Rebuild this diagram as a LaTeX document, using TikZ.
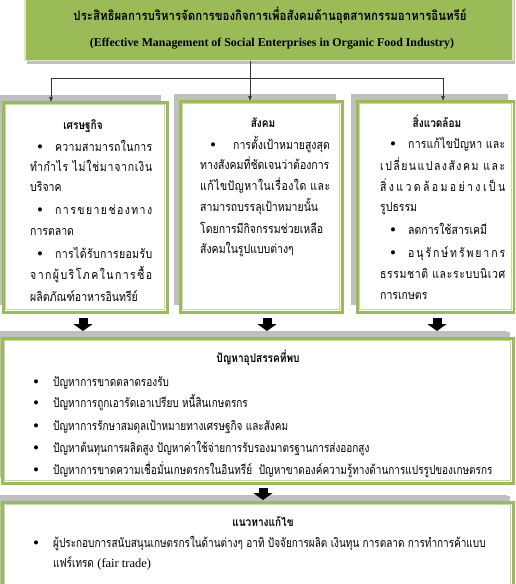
\documentclass[tikz,border=0pt]{standalone}
\usepackage{fontspec}
\setmainfont{Liberation Serif}
\newfontfamily\thai[Script=Thai,FakeStretch=0.84]{Loma}
\newfontfamily\thaiw[Script=Thai,FakeStretch=0.8]{Loma}
\newfontfamily\thait[Script=Thai,FakeStretch=0.88]{Loma}
\usetikzlibrary{shadows,arrows.meta}
\definecolor{ogreen}{HTML}{9BBB59}
\definecolor{shadowgray}{HTML}{BFBFBF}
\newcommand\dist[2]{\makebox[#1pt][s]{\spaceskip=0pt plus 1fil\relax #2}}
\newcommand\just[2]{\makebox[#1pt][s]{#2}}
\newcommand\ws{\hspace{3.5pt plus 1fil}}
\newcommand\innerframe[1]{\draw[ogreen!55, line width=0.8pt] ([shift={(2.6,2.6)}]#1.north west) rectangle ([shift={(-2.6,-2.6)}]#1.south east);}
\begin{document}
\begin{tikzpicture}[x=1pt,y=-1pt,
  frame/.style={draw=ogreen, line width=3pt, fill=white, inner sep=0pt, outer sep=0pt,
    general shadow={fill=shadowgray, shadow xshift=-6pt, shadow yshift=7pt}},
  wideframe/.style={frame, general shadow={fill=shadowgray, shadow xshift=-3pt, shadow yshift=6pt}},
  txt/.style={anchor=base west, inner sep=0pt, font=\thai\fontsize{12.5}{14}\selectfont},
  wtxt/.style={anchor=base west, inner sep=0pt, font=\thaiw\fontsize{12.5}{14}\selectfont},
  hdr/.style={anchor=base, inner sep=0pt, font=\thai\bfseries\fontsize{12}{14}\selectfont},
  bul/.style={anchor=base, inner sep=0pt, font=\fontsize{17}{17}\selectfont},
  arr/.style={-{Latex[length=5pt,width=4pt]}, line width=0.6pt, draw=black!80},
  blockarr/.style={line width=9pt, -{Triangle[width=19pt,length=7pt]}, shorten <=6pt, shorten >=7pt},
]
\clip (0,0) rectangle (515,584);
\fill[white] (0,0) rectangle (515,584);

% title
\node[fill=ogreen, draw=ogreen!35, line width=1.5pt, inner sep=0pt, outer sep=0pt,
  minimum width=488pt, minimum height=66pt,
  general shadow={fill=shadowgray, shadow xshift=2pt, shadow yshift=-3pt}] (title) at (269,27.5) {};
\node[anchor=base, inner sep=0pt, font=\thait\bfseries\fontsize{13}{15}\selectfont] (tt1) at (270,20)
  {ประสิทธิผลการบริหารจัดการของกิจการเพื่อสังคมด้านอุตสาหกรรมอาหารอินทรีย์};
\node[anchor=base, inner sep=0pt, font=\bfseries\fontsize{11.9}{13}\selectfont] (tt2) at (272,46)
  {(Effective Management of Social Enterprises in Organic Food Industry)};

% boxes
\node[frame, minimum width=164pt, minimum height=210pt] (b1) at (85,207) {};
\node[frame, minimum width=162pt, minimum height=211pt] (b2) at (261,206.5) {};
\node[frame, minimum width=157pt, minimum height=211pt] (b3) at (435.5,206.5) {};
\node[wideframe, minimum width=511pt, minimum height=145pt] (b4) at (257.5,410.5) {};
\node[wideframe, minimum width=511pt, minimum height=118pt] (b5) at (257.5,561) {};
\innerframe{b1}\innerframe{b2}\innerframe{b3}\innerframe{b4}\innerframe{b5}

% connectors
\coordinate (j) at (250,78);
\draw[line width=0.6pt, black!80] (title.south -| j) -- (j);
\draw[arr] (j) -| ([xshift=-34pt]b1.north);
\draw[arr] (j) -- ([xshift=-11pt]b2.north);
\draw[arr] (j) -| ([xshift=7.5pt]b3.north);

\draw[blockarr] ([xshift=-2pt]b1.south) -- ([xshift=-2pt]b1.south |- b4.north);
\draw[blockarr] ([xshift=6pt]b2.south) -- ([xshift=6pt]b2.south |- b4.north);
\draw[blockarr] ([xshift=1.5pt]b3.south) -- ([xshift=1.5pt]b3.south |- b4.north);
\draw[blockarr, shorten <=5pt, shorten >=2pt] ([xshift=5.5pt]b4.south) -- ([xshift=5.5pt]b4.south |- b5.north);

% box 1
\node[hdr] (h1) at (83,129) {เศรษฐกิจ};
\node[bul] (p1a) at (40,152) {•};
\node[txt] (l1a) at (55,151) {\dist{97}{ค ว า ม ส า ม า ร ถ ใ น ก า ร}};
\node[txt] (l1b) at (30,171) {\dist{122}{ทำ กำ ไ ร\ws ไ ม่ ใ ช่ ม า จ า ก เ งิ น}};
\node[txt] (l1c) at (30,191) {บริจาค};
\node[bul] (p1b) at (40,215) {•};
\node[txt] (l1d) at (55,214) {\dist{97}{ก า ร ข ย า ย ช่ อ ง ท า ง}};
\node[txt] (l1e) at (30,235) {การตลาด};
\node[bul] (p1c) at (40,259) {•};
\node[txt] (l1f) at (55,258) {\dist{97}{ก า ร ไ ด้ รั บ ก า ร ย อ ม รั บ}};
\node[txt] (l1g) at (30,279) {\dist{122}{จ า ก ผู้ บ ริ โ ภ ค ใ น ก า ร ซื้ อ}};
\node[txt] (l1h) at (30,301) {ผลิตภัณฑ์อาหารอินทรีย์};

% box 2
\node[hdr] (h2) at (263,127) {สังคม};
\node[bul] (p2a) at (213,150) {•};
\node[txt] (l2a) at (233,149) {\just{97}{การตั้งเป้าหมายสูงสุด}};
\node[txt] (l2b) at (200,169) {\just{130}{ทางสังคมที่ชัดเจนว่าต้องการ}};
\node[txt] (l2c) at (200,190) {\dist{130}{แ ก้ ไ ข ปั ญ ห า ใ น เ รื่ อ ง ใ ด\ws แ ล ะ}};
\node[txt] (l2d) at (200,211) {\just{130}{สามารถบรรลุเป้าหมายนั้น}};
\node[txt] (l2e) at (200,233) {\just{130}{โดยการมีกิจกรรมช่วยเหลือ}};
\node[txt] (l2f) at (200,253) {สังคมในรูปแบบต่างๆ};

% box 3
\node[hdr] (h3) at (437,127) {สิ่งแวดล้อม};
\node[bul] (p3a) at (393,149) {•};
\node[txt] (l3a) at (408,148) {\dist{97}{ก า ร แ ก้ ไ ข ปั ญ ห า\ws แ ล ะ}};
\node[txt] (l3b) at (380,170) {\dist{125}{เ ป ลี่ ย น แ ป ล ง สั ง ค ม\ws แ ล ะ}};
\node[txt] (l3c) at (380,191) {\dist{125}{สิ่ ง แ ว ด ล้ อ ม อ ย่ า ง เ ป็ น}};
\node[txt] (l3d) at (380,211) {รูปธรรม};
\node[bul] (p3b) at (393,235) {•};
\node[txt] (l3e) at (408,234) {ลดการใช้สารเคมี};
\node[bul] (p3c) at (393,258) {•};
\node[txt] (l3f) at (408,257) {\dist{97}{อ นุ รั ก ษ์ ท รั พ ย า ก ร}};
\node[txt] (l3g) at (380,278) {\dist{125}{ธ ร ร ม ช า ติ\ws แ ล ะ ร ะ บ บ นิ เ ว ศ}};
\node[txt] (l3h) at (380,299) {การเกษตร};

% box 4
\node[hdr] (h4) at (258,362) {ปัญหาอุปสรรคที่พบ};
\node[bul] (p4a) at (36,387) {•};
\node[wtxt] (l4a) at (53,386) {ปัญหาการขาดตลาดรองรับ};
\node[bul] (p4b) at (36,408) {•};
\node[wtxt] (l4b) at (53,407) {ปัญหาการถูกเอารัดเอาเปรียบ หนี้สินเกษตรกร};
\node[bul] (p4c) at (36,431) {•};
\node[wtxt] (l4c) at (53,430) {ปัญหาการรักษาสมดุลเป้าหมายทางเศรษฐกิจ และสังคม};
\node[bul] (p4d) at (36,453) {•};
\node[wtxt] (l4d) at (53,452) {ปัญหาต้นทุนการผลิตสูง ปัญหาค่าใช้จ่ายการรับรองมาตรฐานการส่งออกสูง};
\node[bul] (p4e) at (36,475) {•};
\node[wtxt] (l4e) at (53,474) {ปัญหาการขาดความเชื่อมั่นเกษตรกรในอินทรีย์\ \ ปัญหาขาดองค์ความรู้ทางด้านการแปรรูปของเกษตรกร};

% box 5
\node[hdr] (h5) at (263,526) {แนวทางแก้ไข};
\node[bul] (p5a) at (36,548) {•};
\node[wtxt] (l5a) at (53,547) {ผู้ประกอบการสนับสนุนเกษตรกรในด้านต่างๆ อาทิ ปัจจัยการผลิต เงินทุน การตลาด การทำการค้าแบบ};
\node[wtxt] (l5b) at (53,567) {แฟร์เทรด {\fontspec{Liberation Serif}(fair trade)}};
\end{tikzpicture}
\end{document}
